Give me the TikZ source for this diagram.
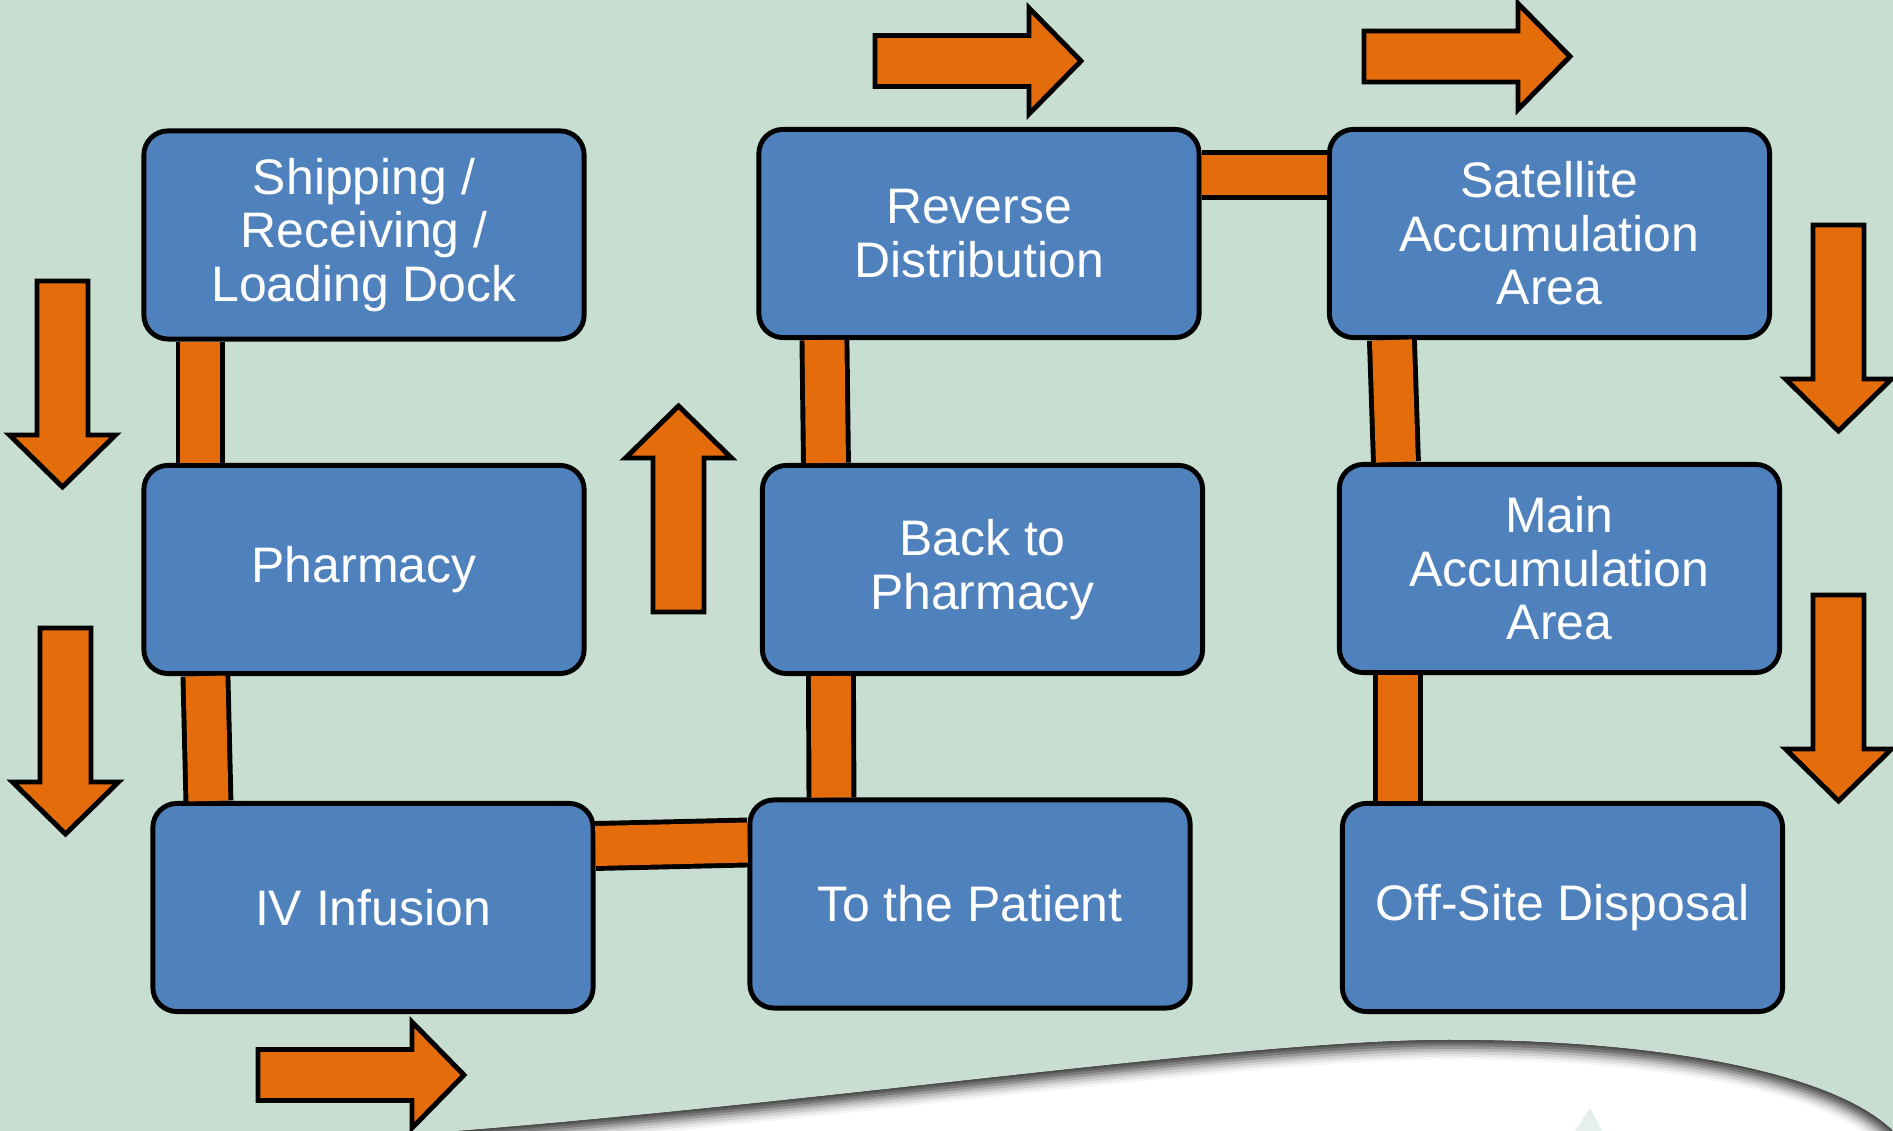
\documentclass[tikz,border=0pt]{standalone}
\usepackage{fontspec}
\setmainfont{Liberation Sans}
\definecolor{bggreen}{HTML}{C7DED1}
\definecolor{boxblue}{HTML}{4F81BD}
\definecolor{barorange}{HTML}{E46C0A}

\begin{document}
\begin{tikzpicture}
    [x=0.01cm,y=-0.01cm,
     area/.style={draw=black,line width=1.4pt,fill=boxblue,rounded corners=0.24cm,
       minimum width=4.4cm,minimum height=2.08cm,text=white,align=center,
       font=\fontsize{14.2}{15.2}\selectfont},
     bar/.style={draw=black,line width=1.4pt,double=barorange,double distance=0.4cm},
     flowarrow/.pic={\draw[fill=barorange,line width=1.4pt,line join=miter]
       (0,-25.5) -- (154,-25.5) -- (154,-53) -- (206,0) -- (154,53) -- (154,25.5) -- (0,25.5) -- cycle;}]
    \useasboundingbox (0,0) rectangle (1893,1131);
    \fill[bggreen] (0,0) rectangle (1893,1131);

    % white swoosh at the bottom
    \begin{scope}
      \clip (459,1131) .. controls (850,1100) and (1250,1040) .. (1449,1040)
        .. controls (1650,1040) and (1830,1070) .. (1893,1131) -- cycle;
      \fill[white] (0,0) rectangle (1893,1131);
      \fill[bggreen!45!white] (1575,1131) -- (1590,1108) -- (1602,1131) -- cycle;
      \foreach \w/\c in {11/4,9.5/10,8/18,6.5/28,5/40,3.5/52,2/62,0.8/70}
        \draw[black!\c,line width=\w pt] (459,1131) .. controls (850,1100) and (1250,1040) .. (1449,1040)
          .. controls (1650,1040) and (1830,1070) .. (1893,1131);
    \end{scope}

    \node[area] (ship) at (364,235) {Shipping /\\Receiving /\\Loading Dock};
    \node[area] (pharm) at (364,569.5) {Pharmacy};
    \node[area] (iv) at (373,907.5) {IV Infusion};
    \node[area] (patient) at (970,904) {To the Patient};
    \node[area] (back) at (982.5,569.5) {Back to\\Pharmacy};
    \node[area] (reverse) at (979,233.5) {Reverse\\Distribution};
    \node[area] (sat) at (1549.5,233.5) {Satellite\\Accumulation\\Area};
    \node[area] (main) at (1559.5,568.5) {Main\\Accumulation\\Area};
    \node[area] (offsite) at (1562.5,907.5) {Off-Site Disposal};

    % bars
    \draw[bar] ([xshift=0.59cm]ship.south west) -- ([xshift=0.59cm]pharm.north west);
    \draw[bar] ([xshift=0.64cm]pharm.south west) -- ([xshift=0.58cm]iv.north west);
    \draw[bar] ([yshift=-0.45cm]iv.north east) -- ([yshift=-0.45cm]patient.north west);
    \draw[bar] ([xshift=0.84cm]patient.north west) -- ([xshift=0.71cm]back.south west);
    \draw[bar] ([xshift=0.66cm]back.north west) -- ([xshift=0.68cm]reverse.south west);
    \draw[bar] ([yshift=-0.48cm]reverse.north east) -- ([yshift=-0.48cm]sat.north west);
    \draw[bar] ([xshift=0.65cm]sat.south west) -- ([xshift=0.59cm]main.north west);
    \draw[bar] ([xshift=0.61cm]main.south west) -- ([xshift=0.58cm]offsite.north west);

    % block arrows
    \pic[rotate=-90] at (62.5,281) {flowarrow};
    \pic[rotate=-90] at (65.5,628) {flowarrow};
    \pic[rotate=90] at (678.5,612) {flowarrow};
    \pic at (875,61) {flowarrow};
    \pic at (1364,56.5) {flowarrow};
    \pic[rotate=-90] at (1838.5,225) {flowarrow};
    \pic[rotate=-90] at (1838.5,595) {flowarrow};
    \pic at (258,1075) {flowarrow};
\end{tikzpicture}
\end{document}
